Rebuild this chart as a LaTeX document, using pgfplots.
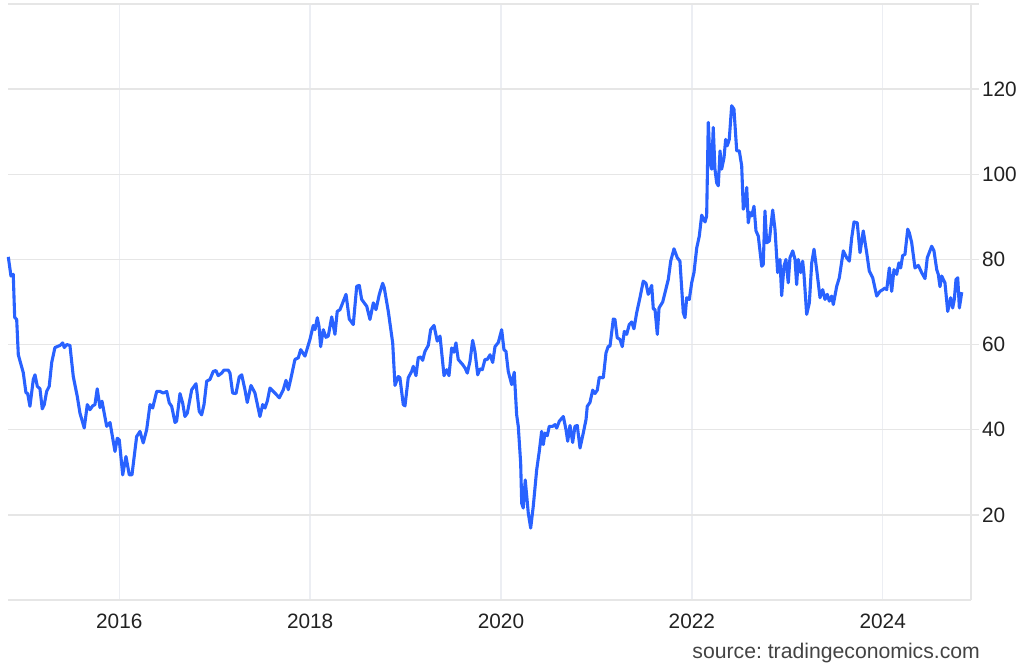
\documentclass[border=0pt]{standalone}
\usepackage{pgfplots}
\pgfplotsset{compat=1.18}
\usepackage{fontspec}
\setmainfont{Liberation Sans}
\frenchspacing
\definecolor{gridcol}{HTML}{E6E6E6}
\definecolor{vgridcol}{HTML}{ECEEF3}
\definecolor{linecol}{HTML}{2962FF}
\definecolor{txtcol}{HTML}{222222}
\begin{document}
\begin{tikzpicture}
\begin{axis}[
  at={(0,0)}, anchor=south west,
  scale only axis,
  width=481.5pt, height=298pt,
  xmin=2014.834, xmax=2024.925,
  ymin=0, ymax=140,
  axis x line*=bottom, axis y line*=right,
  axis line style={draw=gridcol, line width=0.7pt},
  xtick={2016,2018,2020,2022,2024},
  xticklabels={2016,2018,2020,2022,2024},
  ytick={20,40,60,80,100,120},
  extra y ticks={140},
  extra y tick labels={},
  extra y tick style={grid=major, tick style={draw=none}},
  xmajorgrids, ymajorgrids,
  x grid style={draw=vgridcol, line width=0.7pt},
  y grid style={draw=gridcol, line width=0.7pt},
  tick align=outside,
  x tick style={draw=none},
  y tick style={draw=gridcol, line width=0.7pt},
  major tick length=4pt,
  ticklabel style={font=\fontsize{10.4}{12}\selectfont, text=txtcol},
  xticklabel style={yshift=0.5pt},
  yticklabel style={xshift=-2pt},
  /pgf/number format/assume math mode=true,
  clip=false,
]
\addplot[linecol, line width=1.55pt, line join=round] coordinates {
(2014.837,80.6)(2014.865,76.1)(2014.889,76.5)(2014.904,66.4)(2014.925,65.9)(2014.942,57.6)
(2014.994,53.4)(2015.022,48.7)(2015.040,48.5)(2015.064,45.5)(2015.099,51.8)(2015.117,52.9)
(2015.141,50.2)(2015.169,49.6)(2015.193,44.9)(2015.214,45.9)(2015.239,49.0)(2015.266,50.2)
(2015.292,55.8)(2015.326,59.3)(2015.379,59.8)(2015.407,60.4)(2015.424,59.3)(2015.449,60.0)
(2015.483,59.8)(2015.518,52.5)(2015.560,47.8)(2015.588,43.9)(2015.633,40.4)(2015.665,45.9)
(2015.693,44.7)(2015.721,45.6)(2015.745,45.9)(2015.769,49.6)(2015.798,45.2)(2015.819,46.7)
(2015.868,40.8)(2015.903,41.7)(2015.955,34.9)(2015.979,38.0)(2016.000,37.6)(2016.036,29.4)
(2016.070,33.7)(2016.105,29.4)(2016.133,29.4)(2016.182,38.4)(2016.217,39.6)(2016.251,36.9)
(2016.287,40.0)(2016.322,45.9)(2016.350,45.1)(2016.392,49.0)(2016.426,49.0)(2016.461,48.6)
(2016.497,49.0)(2016.524,46.3)(2016.549,45.5)(2016.584,41.7)(2016.601,42.0)(2016.636,48.5)
(2016.664,46.3)(2016.688,43.1)(2016.713,43.9)(2016.759,49.4)(2016.804,50.8)(2016.838,44.3)
(2016.863,43.5)(2016.888,45.9)(2016.916,51.4)(2016.950,51.8)(2016.985,53.7)(2017.013,53.9)
(2017.037,52.7)(2017.073,53.3)(2017.097,54.0)(2017.142,54.0)(2017.160,53.3)(2017.188,48.6)
(2017.223,48.5)(2017.257,52.4)(2017.283,52.9)(2017.317,49.4)(2017.341,46.4)(2017.380,50.4)
(2017.404,49.4)(2017.422,48.6)(2017.474,43.1)(2017.503,45.9)(2017.527,45.1)(2017.551,46.7)
(2017.579,49.8)(2017.632,48.6)(2017.677,47.5)(2017.719,49.4)(2017.747,51.6)(2017.771,49.4)
(2017.796,51.8)(2017.841,56.5)(2017.876,56.9)(2017.901,58.8)(2017.946,57.3)(2017.998,61.2)
(2018.033,64.5)(2018.051,63.5)(2018.075,66.3)(2018.093,64.3)(2018.110,59.5)(2018.138,63.5)
(2018.166,61.7)(2018.190,62.0)(2018.226,66.5)(2018.260,62.4)(2018.284,67.8)(2018.313,68.2)
(2018.341,69.8)(2018.376,71.8)(2018.410,66.0)(2018.452,64.7)(2018.488,73.7)(2018.515,73.9)
(2018.540,70.6)(2018.593,69.0)(2018.627,65.9)(2018.662,69.8)(2018.690,68.2)(2018.725,71.8)
(2018.760,74.4)(2018.777,73.3)(2018.819,67.8)(2018.865,60.4)(2018.889,50.4)(2018.924,52.5)
(2018.941,52.2)(2018.976,45.9)(2018.994,45.6)(2019.028,52.2)(2019.064,53.7)(2019.081,54.9)
(2019.109,52.7)(2019.133,56.9)(2019.158,57.1)(2019.179,56.3)(2019.203,58.4)(2019.238,59.8)
(2019.263,63.5)(2019.298,64.5)(2019.332,60.8)(2019.361,62.0)(2019.403,52.7)(2019.431,54.1)
(2019.455,52.7)(2019.483,59.2)(2019.507,58.2)(2019.528,60.4)(2019.552,56.5)(2019.598,55.3)
(2019.623,54.5)(2019.647,53.3)(2019.675,56.1)(2019.703,61.0)(2019.727,58.4)(2019.756,52.9)
(2019.780,54.3)(2019.804,54.1)(2019.832,56.5)(2019.856,56.5)(2019.885,57.6)(2019.913,55.8)
(2019.937,59.5)(2019.972,60.5)(2020.007,63.5)(2020.031,58.8)(2020.052,58.4)(2020.076,53.7)
(2020.112,50.6)(2020.139,53.5)(2020.164,43.5)(2020.181,40.8)(2020.206,32.2)(2020.217,22.7)
(2020.233,21.6)(2020.254,28.2)(2020.286,20.4)(2020.311,16.9)(2020.338,22.0)(2020.374,30.6)
(2020.401,34.9)(2020.426,39.6)(2020.443,36.5)(2020.461,39.2)(2020.485,38.6)(2020.506,40.8)
(2020.542,40.8)(2020.566,41.2)(2020.584,40.4)(2020.611,42.0)(2020.653,43.1)(2020.681,40.0)
(2020.699,37.3)(2020.723,41.0)(2020.751,37.0)(2020.775,40.8)(2020.799,41.0)(2020.828,35.7)
(2020.862,39.2)(2020.891,42.4)(2020.904,45.5)(2020.932,46.4)(2020.961,49.3)(2020.985,48.5)
(2021.009,49.3)(2021.030,52.3)(2021.072,52.2)(2021.100,58.0)(2021.124,59.6)(2021.142,59.6)
(2021.177,66.0)(2021.194,65.9)(2021.218,61.6)(2021.247,61.2)(2021.271,59.5)(2021.292,63.1)
(2021.317,62.4)(2021.344,64.7)(2021.369,65.3)(2021.393,63.7)(2021.422,67.5)(2021.456,71.0)
(2021.491,74.9)(2021.519,74.4)(2021.543,71.8)(2021.579,73.9)(2021.596,68.4)(2021.614,68.2)
(2021.638,62.4)(2021.656,68.6)(2021.694,70.0)(2021.753,75.3)(2021.778,79.6)(2021.813,82.5)
(2021.847,80.4)(2021.875,79.6)(2021.910,67.5)(2021.928,66.3)(2021.946,71.0)(2021.973,70.6)
(2021.998,74.5)(2022.022,76.9)(2022.051,82.7)(2022.078,85.5)(2022.103,90.4)(2022.138,88.8)
(2022.155,90.2)(2022.172,112.2)(2022.190,103.1)(2022.208,101.2)(2022.224,111.0)(2022.242,101.2)
(2022.260,98.0)(2022.277,97.3)(2022.295,105.5)(2022.312,101.2)(2022.337,103.9)(2022.354,108.2)
(2022.371,106.7)(2022.392,108.2)(2022.417,116.1)(2022.441,115.3)(2022.470,105.5)(2022.497,105.5)
(2022.522,102.0)(2022.539,91.8)(2022.557,92.9)(2022.575,96.9)(2022.591,88.6)(2022.609,91.0)
(2022.627,90.2)(2022.651,92.5)(2022.672,86.7)(2022.696,85.5)(2022.732,78.4)(2022.748,78.8)
(2022.766,91.4)(2022.784,83.9)(2022.811,84.3)(2022.847,91.6)(2022.871,87.1)(2022.899,76.9)
(2022.923,80.0)(2022.941,71.5)(2022.965,78.4)(2022.986,80.0)(2023.010,74.5)(2023.028,80.4)
(2023.057,82.0)(2023.081,80.0)(2023.098,74.1)(2023.115,80.0)(2023.140,76.9)(2023.161,79.6)
(2023.175,76.5)(2023.203,67.1)(2023.231,69.8)(2023.256,79.2)(2023.280,82.4)(2023.308,77.6)
(2023.343,71.0)(2023.371,72.9)(2023.395,70.6)(2023.419,71.8)(2023.440,70.2)(2023.465,71.4)
(2023.482,69.4)(2023.518,73.7)(2023.545,75.7)(2023.587,82.0)(2023.622,80.4)(2023.650,79.6)
(2023.675,85.1)(2023.699,88.8)(2023.733,88.6)(2023.762,81.6)(2023.796,86.7)(2023.832,81.6)
(2023.859,77.3)(2023.895,75.7)(2023.937,71.4)(2023.971,72.5)(2024.000,72.9)(2024.024,73.3)
(2024.042,72.9)(2024.069,78.0)(2024.094,72.5)(2024.118,77.6)(2024.146,76.5)(2024.170,79.2)
(2024.188,78.0)(2024.209,80.9)(2024.233,81.2)(2024.262,87.1)(2024.278,86.3)(2024.303,84.0)
(2024.338,78.0)(2024.373,78.6)(2024.408,76.9)(2024.443,75.5)(2024.467,80.4)(2024.513,83.1)
(2024.537,82.0)(2024.566,77.6)(2024.582,76.5)(2024.600,73.6)(2024.618,76.1)(2024.652,74.5)
(2024.681,67.8)(2024.712,71.0)(2024.733,68.6)(2024.750,70.6)(2024.768,75.3)(2024.786,75.7)
(2024.803,68.6)(2024.828,72.3)
};
\node[anchor=base east, font=\fontsize{10.6}{12}\selectfont, text=txtcol!85!white]
  at (rel axis cs:1,0) [xshift=8pt, yshift=-29pt] {source: tradingeconomics.com};
\end{axis}
\pgfresetboundingbox
\useasboundingbox (-4pt,-35.5pt) rectangle (508pt,300pt);
\end{tikzpicture}
\end{document}
